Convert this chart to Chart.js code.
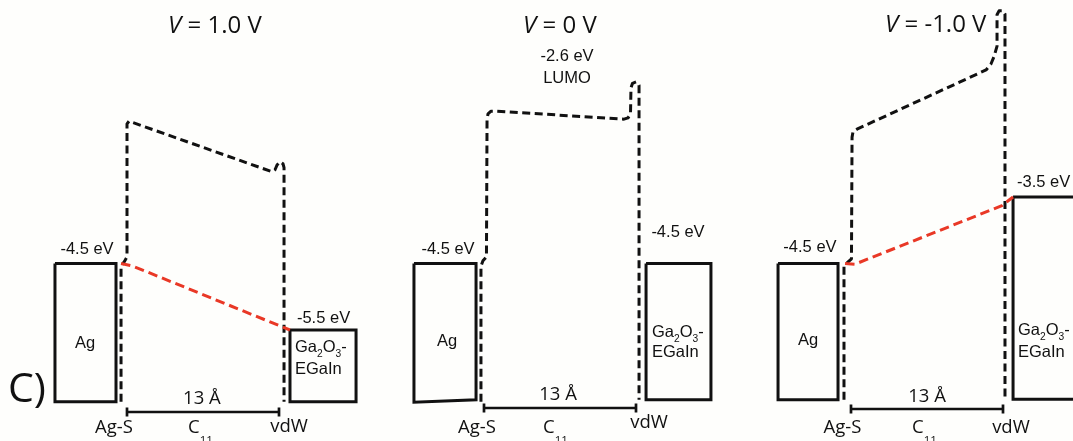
<!DOCTYPE html>
<html>
<head>
<meta charset="utf-8">
<script src="https://cdn.jsdelivr.net/npm/chart.js@4.4.1/dist/chart.umd.min.js"></script>
<style>
  html, body { margin: 0; padding: 0; background: #fefefc; overflow: hidden; }
  #wrap { position: relative; width: 1073px; height: 441px; overflow: hidden; }
  #wrap canvas { position: absolute; top: 0; }
</style>
</head>
<body>
<div id="wrap">
  <canvas id="panel0" width="360" height="441" style="left:0px"></canvas>
  <canvas id="panel1" width="360" height="441" style="left:357px"></canvas>
  <canvas id="panel2" width="349" height="441" style="left:724px"></canvas>
</div>
<script>
// ---- Energy-level data (x: position along the junction in Å, y: energy in eV) ----

// Applied bias for each diagram (V)
const biasLabels = ['1.0', '0', '-1.0'];
// Fermi levels of the two electrodes (eV)
const agFermi = [-4.5, -4.5, -4.5];
const egainFermi = [-5.5, -4.5, -3.5];
// LUMO of the C11 backbone (eV)
const lumoLevel = -2.6;
// Length of the SC11 monolayer (Å)
const moleculeLength = 13;

// Electrode bars: horizontal extent (Å) and bottom edge (eV)
const agLeft = [-6.16, -5.99, -6.24];
const agRight = [-0.94, -0.68, -1.11];
const agBottomLeft = [-6.58, -6.585, -6.55];
const agBottomRight = [-6.58, -6.55, -6.55];
const egainLeft = [13.94, 13.86, 13.86];
const egainRight = [19.59, 19.41, 19.6];
const egainBottom = [-6.58, -6.55, -6.54];

// Tunnelling-barrier (LUMO) profiles, drawn from the Ag side to the EGaIn side
const barrierForward = [[-0.51, -6.58], [-0.51, -4.54], [-0.26, -4.48], [0, -4.40], [0, -2.40], [0.17, -2.36],
  [12.40, -3.12], [12.66, -3.09], [12.83, -3.02], [13.09, -2.97], [13.34, -3.00], [13.43, -3.06], [13.43, -6.58]];
const barrierZero = [[-0.26, -6.58], [-0.26, -4.54], [-0.09, -4.46], [0.21, -4.40], [0.26, -2.34], [0.34, -2.25],
  [0.60, -2.21], [1.11, -2.21], [11.97, -2.33], [12.32, -2.31], [12.53, -2.25], [12.57, -1.86], [12.70, -1.79],
  [13.00, -1.77], [13.26, -1.82], [13.26, -6.55]];
const barrierReverse = [[-0.60, -6.55], [-0.60, -4.55], [-0.34, -4.49], [0.04, -4.43], [0.09, -2.60], [0.17, -2.52],
  [0.51, -2.48], [11.55, -1.59], [11.97, -1.50], [12.23, -1.39], [12.49, -1.23], [12.49, -0.76], [12.66, -0.70],
  [13.00, -0.70], [13.17, -0.75], [13.17, -6.55]];

// Potential drop across the junction (interior points, eV)
const dropForward = [[0.51, -4.54]];
const dropReverse = [[0.34, -4.51], [12.91, -3.63]];

// Height of the 13 Å scale bar (eV)
const scaleBarLevel = [-6.733, -6.673, -6.688];

// ---- Layout ----
const PX_PER_ANGSTROM = 152 / 13;
const PX_PER_EV = 66.5;
const X_MIN = -127 / PX_PER_ANGSTROM;
const Y_MAX = -4.5 + 263.5 / PX_PER_EV;
const HEIGHT = 441;
const RED = 'rgb(233,56,38)';
const INK = '#111111';
const ARIAL = '"Liberation Sans", Arial, sans-serif';
const MYRIAD = '"Open Sans", "Noto Sans", sans-serif';

const fmtEV = v => `${v.toFixed(1)} eV`;
const pts = arr => arr.map(([x, y]) => ({ x, y }));

const barriers = [barrierForward, barrierZero, barrierReverse];
const fermiProfiles = [
  [[-0.51, agFermi[0]], ...dropForward, [egainLeft[0], egainFermi[0]]],
  null,
  [[-0.51, agFermi[2]], ...dropReverse, [egainLeft[2], egainFermi[2]]]
];

// Text placed at (Å, eV) anchors; baseline alignment
function panelLabels(i) {
  const L = [];
  const titlePos = [[3.51, -1.038], [3.34, -1.034], [2.91, -1.014]][i];
  L.push({ x: titlePos[0], y: titlePos[1], align: 'left', size: 24, family: MYRIAD,
    runs: [{ t: 'V', italic: true }, { t: ' = ' + biasLabels[i] + ' V' }] });

  const agLab = [[-3.42, -4.357], [-3.08, -4.357], [-3.51, -4.323]][i];
  L.push({ x: agLab[0], y: agLab[1], align: 'center', size: 16.5, family: ARIAL, runs: [{ t: fmtEV(agFermi[i]) }] });

  const egLab = [[16.81, -5.390, 'center'], [16.59, -4.106, 'center'], [14.20, -3.345, 'left']][i];
  L.push({ x: egLab[0], y: egLab[1], align: egLab[2], size: 16.5, family: ARIAL, runs: [{ t: fmtEV(egainFermi[i]) }] });

  const agName = [[-3.59, -5.775], [-3.16, -5.741], [-3.68, -5.726]][i];
  L.push({ x: agName[0], y: agName[1], align: 'center', size: 16.5, family: ARIAL, runs: [{ t: 'Ag' }] });

  const egName = [[14.37, -5.831, -6.157], [14.37, -5.605, -5.906], [14.28, -5.575, -5.906]][i];
  L.push({ x: egName[0], y: egName[1], align: 'left', size: 16.5, family: ARIAL, subShift: 0.32,
    runs: [{ t: 'Ga' }, { t: '2', sub: true }, { t: 'O' }, { t: '3', sub: true }, { t: '-' }] });
  L.push({ x: egName[0], y: egName[2], align: 'left', size: 16.5, family: ARIAL, runs: [{ t: 'EGaIn' }] });

  const len = [[6.41, -6.613], [6.33, -6.553], [6.50, -6.578]][i];
  L.push({ x: len[0], y: len[1], align: 'center', size: 18.5, family: MYRIAD, runs: [{ t: moleculeLength + ' Å' }] });

  const agS = [[-1.11, -7.049], [-0.60, -7.049], [-0.73, -7.049]][i];
  L.push({ x: agS[0], y: agS[1], align: 'center', size: 18.5, family: MYRIAD, runs: [{ t: 'Ag-S' }] });

  const c11 = [[5.22, -7.049], [5.05, -7.049], [5.22, -7.049]][i];
  L.push({ x: c11[0], y: c11[1], align: 'left', size: 18.5, family: MYRIAD, subShift: 0.58,
    runs: [{ t: 'C' }, { t: '11', sub: true }] });

  const vdw = [[13.86, -7.029], [14.11, -6.974], [13.68, -7.049]][i];
  L.push({ x: vdw[0], y: vdw[1], align: 'center', size: 18.5, family: MYRIAD, runs: [{ t: 'vdW' }] });

  if (i === 1) {
    L.push({ x: 7.10, y: -1.455, align: 'center', size: 16.5, family: ARIAL, runs: [{ t: fmtEV(lumoLevel) }] });
    L.push({ x: 7.10, y: -1.790, align: 'center', size: 16.5, family: ARIAL, runs: [{ t: 'LUMO' }] });
  }
  if (i === 0) {
    L.push({ x: -10.18, y: -6.578, align: 'left', size: 41, family: MYRIAD, runs: [{ t: 'C)' }] });
  }
  return L;
}

const bandText = {
  id: 'bandText',
  afterDatasetsDraw(chart, args, opts) {
    const { ctx } = chart;
    const xs = chart.scales.x, ys = chart.scales.y;
    ctx.save();
    ctx.fillStyle = INK;
    ctx.textBaseline = 'alphabetic';
    ctx.textAlign = 'left';
    for (const lab of opts.labels) {
      const font = r => `${r.italic ? 'italic ' : ''}${r.sub ? lab.size * 0.62 : lab.size}px ${lab.family}`;
      let total = 0;
      for (const r of lab.runs) { ctx.font = font(r); total += ctx.measureText(r.t).width; }
      let cx = xs.getPixelForValue(lab.x);
      const by = ys.getPixelForValue(lab.y);
      if (lab.align === 'center') cx -= total / 2;
      for (const r of lab.runs) {
        ctx.font = font(r);
        ctx.fillText(r.t, cx, by + (r.sub ? lab.size * (lab.subShift || 0.28) : 0));
        cx += ctx.measureText(r.t).width;
      }
    }
    ctx.restore();
  }
};

function buildDatasets(i) {
  const solid = { borderColor: INK, borderWidth: 3, borderJoinStyle: 'miter', borderCapStyle: 'butt' };
  const dashed = { borderColor: INK, borderWidth: 3, borderDash: [8, 4.5], borderJoinStyle: 'round', borderCapStyle: 'butt' };
  const ds = [];
  if (fermiProfiles[i]) {
    ds.push({ data: pts(fermiProfiles[i]), borderColor: RED, borderWidth: 3, borderDash: [9.5, 5], borderCapStyle: 'butt', borderJoinStyle: 'round' });
  }
  ds.push({ data: pts(barriers[i]), ...dashed });
  ds.push({ data: pts([[agLeft[i], agFermi[i]], [agRight[i], agFermi[i]], [agRight[i], agBottomRight[i]],
    [agLeft[i], agBottomLeft[i]], [agLeft[i], agFermi[i]]]), ...solid });
  ds.push({ data: pts([[egainLeft[i], egainFermi[i]], [egainRight[i], egainFermi[i]], [egainRight[i], egainBottom[i]],
    [egainLeft[i], egainBottom[i]], [egainLeft[i], egainFermi[i]]]), ...solid });
  const yb = scaleBarLevel[i], tick = 4.5 / PX_PER_EV;
  const bar = { borderColor: INK, borderWidth: 2.7, borderCapStyle: 'butt' };
  ds.push({ data: pts([[0, yb], [moleculeLength, yb]]), ...bar });
  ds.push({ data: pts([[0, yb - tick], [0, yb + tick]]), ...bar });
  ds.push({ data: pts([[moleculeLength, yb - tick], [moleculeLength, yb + tick]]), ...bar });
  return ds.map(d => ({ ...d, showLine: true, fill: false, tension: 0, pointRadius: 0, pointHoverRadius: 0 }));
}

['panel0', 'panel1', 'panel2'].forEach((id, i) => {
  const canvas = document.getElementById(id);
  const w = canvas.width;
  new Chart(canvas, {
    type: 'scatter',
    data: { datasets: buildDatasets(i) },
    options: {
      responsive: false,
      maintainAspectRatio: false,
      devicePixelRatio: 1,
      animation: false,
      events: [],
      layout: { padding: 0 },
      scales: {
        x: { type: 'linear', display: false, min: X_MIN, max: X_MIN + w / PX_PER_ANGSTROM },
        y: { type: 'linear', display: false, min: Y_MAX - HEIGHT / PX_PER_EV, max: Y_MAX }
      },
      plugins: {
        legend: { display: false },
        tooltip: { enabled: false },
        bandText: { labels: panelLabels(i) }
      }
    },
    plugins: [bandText]
  });
});
</script>
</body>
</html>
